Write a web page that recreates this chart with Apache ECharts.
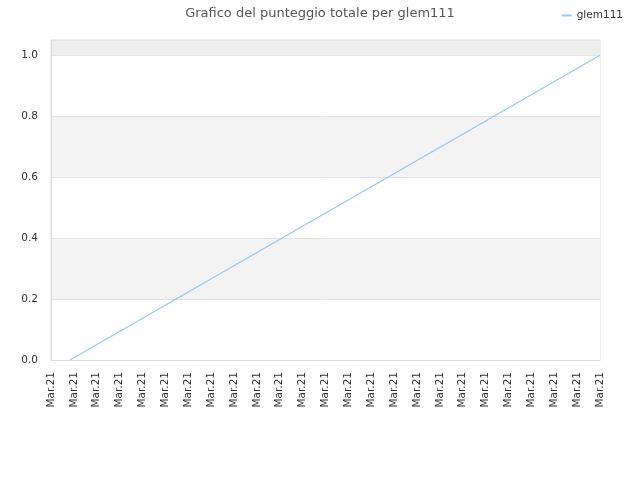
<!DOCTYPE html>
<html>
<head>
<meta charset="utf-8">
<script src="https://cdn.jsdelivr.net/npm/echarts@6/dist/echarts.min.js"></script>
<style>html,body{margin:0;padding:0;background:#fff}#c{width:640px;height:480px}</style>
</head>
<body>
<div id="c"></div>
<script>
var tickLabels = ['Mar.21','Mar.21','Mar.21','Mar.21','Mar.21','Mar.21','Mar.21','Mar.21','Mar.21','Mar.21','Mar.21','Mar.21','Mar.21','Mar.21','Mar.21','Mar.21','Mar.21','Mar.21','Mar.21','Mar.21','Mar.21','Mar.21','Mar.21','Mar.21','Mar.21'];
var seriesX = [0.83, 24];
var seriesY = [0, 1];
var seriesName = 'glem111';

var chart = echarts.init(document.getElementById('c'));
chart.setOption({
  animation: false,
  title: {
    text: 'Grafico del punteggio totale per glem111',
    left: 'center', top: 2,
    textStyle: {fontFamily: 'DejaVu Sans', fontSize: 13, fontWeight: 'normal', color: '#555'}
  },
  legend: {
    right: 12, top: 5, itemWidth: 10, itemHeight: 2, itemGap: 8,
    icon: 'rect',
    textStyle: {fontFamily: 'DejaVu Sans', fontSize: 10.5, color: '#333'},
    data: [seriesName]
  },
  grid: {left: 51, right: 40, top: 40, bottom: 120, show: true, borderColor: '#dcdcdc', borderWidth: 1, backgroundColor: 'transparent'},
  xAxis: {
    type: 'value', min: 0, max: tickLabels.length - 1, interval: 1,
    axisLine: {lineStyle: {color: '#dcdcdc'}},
    axisTick: {show: false},
    splitLine: {show: false},
    axisLabel: {
      rotate: 90, fontFamily: 'DejaVu Sans', fontSize: 10.5, color: '#333', margin: 12,
      formatter: function (v) { return tickLabels[Math.round(v)]; }
    }
  },
  yAxis: {
    type: 'value', min: 0, max: 1.05, interval: 0.2,
    axisLine: {show: true, lineStyle: {color: '#dcdcdc'}},
    axisTick: {show: false},
    splitLine: {lineStyle: {color: '#e4e4e4'}},
    splitArea: {show: true, areaStyle: {color: ['#ffffff', '#f3f3f3', '#ffffff', '#f3f3f3', '#ffffff', '#eeeeee']}},
    axisLabel: {
      fontFamily: 'DejaVu Sans', fontSize: 10.5, color: '#333', margin: 13,
      showMaxLabel: false,
      formatter: function (v) { return v > 1.01 ? '' : v.toFixed(1); }
    }
  },
  series: [{
    name: seriesName, type: 'line', symbol: 'none',
    lineStyle: {color: '#99c6f4', width: 1.3},
    itemStyle: {color: '#99c6f4'},
    data: seriesX.map(function (x, i) { return [x, seriesY[i]]; })
  }]
});
</script>
</body>
</html>
